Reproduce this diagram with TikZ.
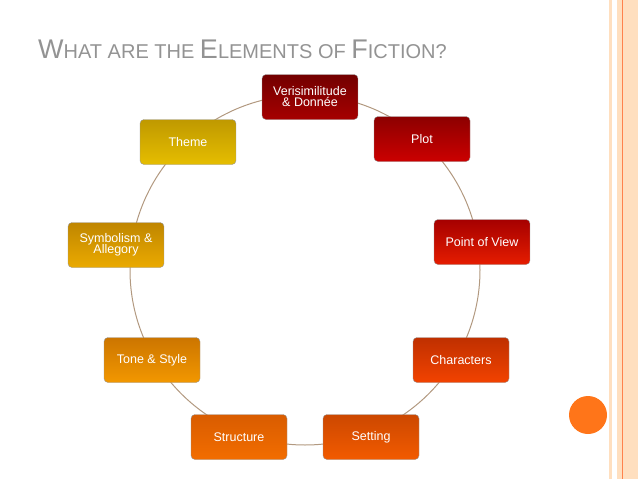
\documentclass[tikz,border=0pt]{standalone}
\usepackage{fontspec}
\setmainfont{Liberation Sans}
\begin{document}
\begin{tikzpicture}[x=1pt,y=-1pt,
  elem/.style={draw=black!40,rounded corners=4pt,minimum width=96pt,minimum height=45pt,
    align=center,text=white,font=\fontsize{12.5}{13}\selectfont,inner sep=2pt},
  ring/.style={draw=brown!50!gray!80,line width=1pt}]
\useasboundingbox (0,0) rectangle (638,479);
% right strip
\fill[orange!25] (617,0) rectangle (638,479);
\fill[orange!25] (609,0) rectangle (612,479);
\draw[orange!60!red!70,line width=0.8pt] (622,0) -- (622,479);
\fill[orange!80!red!90] (588,415) circle (19);
% title
\node[anchor=base west,text=gray!85,inner sep=0] (title) at (38,58)
  {\fontsize{27}{28}\selectfont W\fontsize{20}{21}\selectfont HAT ARE THE
   \fontsize{27}{28}\selectfont E\fontsize{20}{21}\selectfont LEMENTS OF
   \fontsize{27}{28}\selectfont F\fontsize{20}{21}\selectfont ICTION?};
% ring
\draw[ring] (305,270) circle (175);
% elements
\node[elem,top color=red!45!black,bottom color=red!65!black] (veri) at (310,97) {Verisimilitude\\[-2pt]\& Donnée};
\node[elem,top color=red!55!black,bottom color=red!80!black] (plot) at (422,139) {Plot};
\node[elem,top color=red!65!black,bottom color=red!75!orange!90!black] (pov) at (482,242) {Point of View};
\node[elem,top color=red!50!orange!75!black,bottom color=red!45!orange!95!black] (char) at (461,360) {Characters};
\node[elem,top color=red!30!orange!80!black,bottom color=red!25!orange!95!black] (sett) at (371,437) {Setting};
\node[elem,top color=red!15!orange!85!black,bottom color=red!10!orange!95!black] (struc) at (239,437) {Structure};
\node[elem,top color=orange!85!yellow!80!black,bottom color=orange!75!yellow!95!black] (tone) at (152,360) {Tone \& Style};
\node[elem,top color=orange!60!yellow!75!black,bottom color=orange!55!yellow!92!black] (symb) at (116,245) {Symbolism \&\\[-2pt]Allegory};
\node[elem,top color=orange!40!yellow!75!black,bottom color=orange!35!yellow!90!black] (theme) at (188,142) {Theme};
\end{tikzpicture}
\end{document}
